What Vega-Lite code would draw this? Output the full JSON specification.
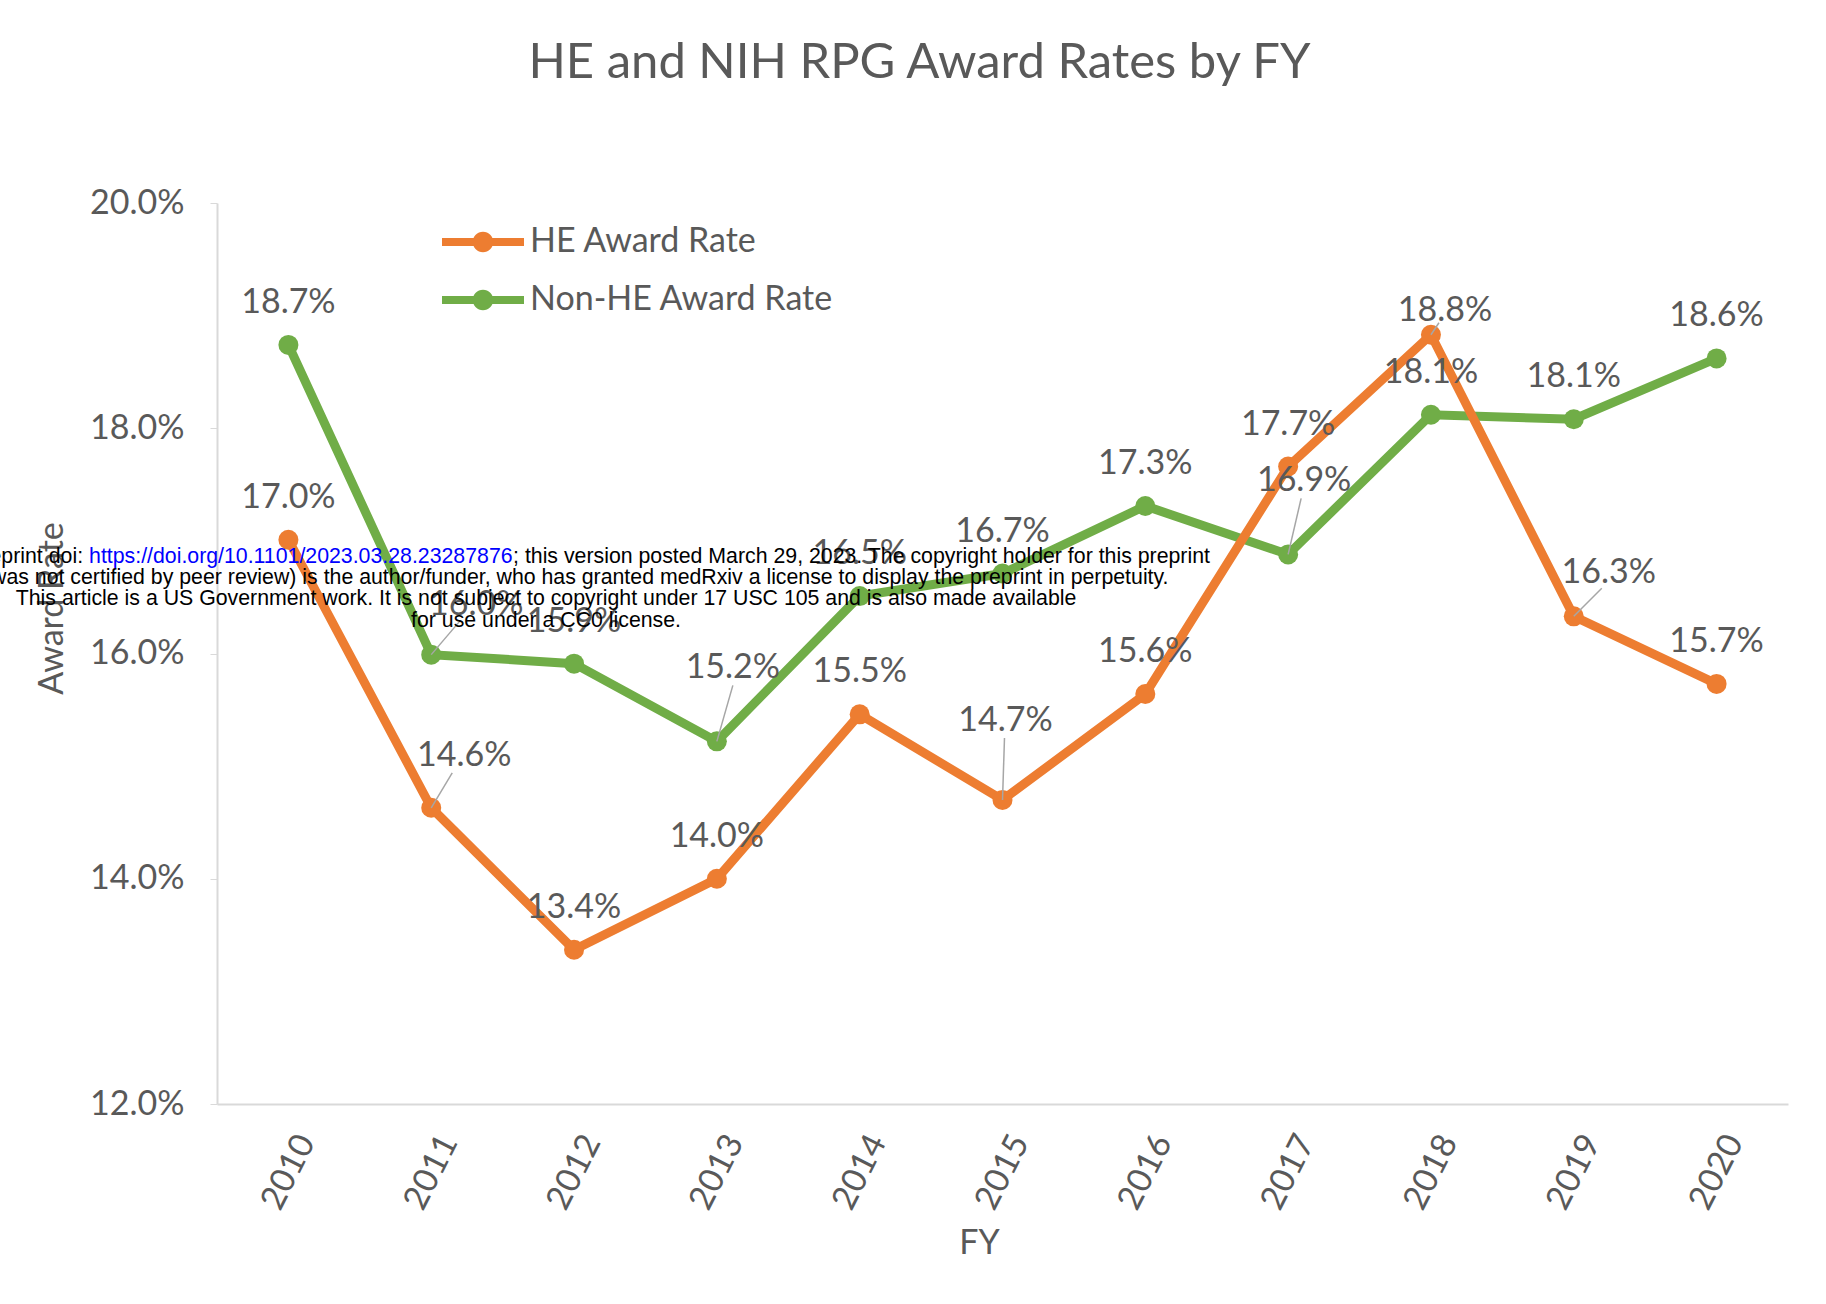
{
  "$schema": "https://vega.github.io/schema/vega-lite/v6.json",
  "description": "HE and NIH RPG award rates by fiscal year, with the medRxiv notice laid over the plot",
  "width": 1571,
  "height": 901,
  "autosize": {"type": "none"},
  "padding": {"left": 217, "top": 203, "right": 38, "bottom": 200},
  "background": "white",
  "config": {"view": {"stroke": null}, "font": "Lato"},
  "title": {
    "text": "HE and NIH RPG Award Rates by FY",
    "anchor": "middle",
    "frame": "group",
    "dx": -83,
    "offset": 98,
    "font": "Lato",
    "fontSize": 49,
    "fontWeight": "normal",
    "color": "#595959"
  },
  "data": {
    "values": [
      {"FY": "2010", "series": "Non-HE Award Rate", "rate": 0.1874},
      {"FY": "2011", "series": "Non-HE Award Rate", "rate": 0.1599},
      {"FY": "2012", "series": "Non-HE Award Rate", "rate": 0.1591},
      {"FY": "2013", "series": "Non-HE Award Rate", "rate": 0.1522},
      {"FY": "2014", "series": "Non-HE Award Rate", "rate": 0.1651},
      {"FY": "2015", "series": "Non-HE Award Rate", "rate": 0.1671},
      {"FY": "2016", "series": "Non-HE Award Rate", "rate": 0.1731},
      {"FY": "2017", "series": "Non-HE Award Rate", "rate": 0.1688},
      {"FY": "2018", "series": "Non-HE Award Rate", "rate": 0.1812},
      {"FY": "2019", "series": "Non-HE Award Rate", "rate": 0.1808},
      {"FY": "2020", "series": "Non-HE Award Rate", "rate": 0.1862},
      {"FY": "2010", "series": "HE Award Rate", "rate": 0.1701},
      {"FY": "2011", "series": "HE Award Rate", "rate": 0.1463},
      {"FY": "2012", "series": "HE Award Rate", "rate": 0.1337},
      {"FY": "2013", "series": "HE Award Rate", "rate": 0.1400},
      {"FY": "2014", "series": "HE Award Rate", "rate": 0.1546},
      {"FY": "2015", "series": "HE Award Rate", "rate": 0.1470},
      {"FY": "2016", "series": "HE Award Rate", "rate": 0.1564},
      {"FY": "2017", "series": "HE Award Rate", "rate": 0.1766},
      {"FY": "2018", "series": "HE Award Rate", "rate": 0.1883},
      {"FY": "2019", "series": "HE Award Rate", "rate": 0.1633},
      {"FY": "2020", "series": "HE Award Rate", "rate": 0.1573}
    ]
  },
  "encoding": {
    "x": {
      "field": "FY",
      "type": "ordinal",
      "scale": {"type": "point", "padding": 0.5},
      "axis": {
        "title": "FY",
        "labelAngle": -63,
        "labelAlign": "center",
        "labelBaseline": "middle",
        "labelPadding": 68,
        "labelOverlap": false,
        "labelFont": "Lato",
        "labelFontSize": 34,
        "labelColor": "#595959",
        "ticks": false,
        "grid": false,
        "domainColor": "#d9d9d9",
        "domainWidth": 2,
        "titleFont": "Lato",
        "titleFontSize": 34,
        "titleFontWeight": "normal",
        "titleColor": "#595959",
        "titlePadding": 12,
        "titleX": 762
      }
    },
    "y": {
      "field": "rate",
      "type": "quantitative",
      "scale": {"domain": [0.12, 0.2], "nice": false, "zero": false},
      "axis": {
        "title": "Award Rate",
        "values": [0.12, 0.14, 0.16, 0.18, 0.2],
        "format": ".1%",
        "grid": false,
        "labelFont": "Lato",
        "labelFontSize": 34,
        "labelColor": "#595959",
        "labelPadding": 26,
        "tickSize": 7,
        "tickColor": "#d9d9d9",
        "domainColor": "#d9d9d9",
        "domainWidth": 2,
        "titleFont": "Lato",
        "titleFontSize": 34,
        "titleFontWeight": "normal",
        "titleColor": "#595959",
        "titlePadding": 20,
        "titleY": 405
      }
    }
  },
  "layer": [
    {
      "transform": [{"filter": "datum.series == 'Non-HE Award Rate'"}],
      "mark": {"type": "line", "strokeWidth": 9, "point": {"filled": true, "size": 400}},
      "encoding": {
        "color": {
          "field": "series",
          "type": "nominal",
          "scale": {"domain": ["HE Award Rate", "Non-HE Award Rate"], "range": ["#ED7D31", "#70AD47"]},
          "legend": {
            "title": null,
            "orient": "none",
            "legendX": 225,
            "legendY": -2,
            "symbolType": "M-1,-0.1L1,-0.1L1,0.1L-1,0.1Z M0.25,0A0.25,0.25,0,1,1,-0.25,0A0.25,0.25,0,1,1,0.25,0Z",
            "symbolSize": 6724,
            "symbolStrokeWidth": 0,
            "labelFont": "Lato",
            "labelFontSize": 34,
            "labelColor": "#595959",
            "labelLimit": 600,
            "labelOffset": 6,
            "rowPadding": 0,
            "encode": {
              "symbols": {
                "update": {
                  "fill": {"scale": "color", "field": "value"},
                  "stroke": {"value": "transparent"}
                }
              }
            }
          }
        }
      }
    },
    {
      "transform": [{"filter": "datum.series == 'HE Award Rate'"}],
      "mark": {"type": "line", "strokeWidth": 9, "point": {"filled": true, "size": 400}},
      "encoding": {
        "color": {"field": "series", "type": "nominal"}
      }
    },
    {
      "transform": [{"filter": "datum.series == 'Non-HE Award Rate' && datum.FY == '2011'"}],
      "mark": {"type": "rule", "color": "#a6a6a6", "strokeWidth": 1.5, "x2Offset": 29, "y2Offset": -34},
      "encoding": {"x2": {"field": "FY"}, "y2": {"field": "rate"}}
    },
    {
      "transform": [{"filter": "datum.series == 'Non-HE Award Rate' && datum.FY == '2013'"}],
      "mark": {"type": "rule", "color": "#a6a6a6", "strokeWidth": 1.5, "x2Offset": 16, "y2Offset": -56},
      "encoding": {"x2": {"field": "FY"}, "y2": {"field": "rate"}}
    },
    {
      "transform": [{"filter": "datum.series == 'Non-HE Award Rate' && datum.FY == '2017'"}],
      "mark": {"type": "rule", "color": "#a6a6a6", "strokeWidth": 1.5, "x2Offset": 13, "y2Offset": -56},
      "encoding": {"x2": {"field": "FY"}, "y2": {"field": "rate"}}
    },
    {
      "transform": [{"filter": "datum.series == 'HE Award Rate' && datum.FY == '2011'"}],
      "mark": {"type": "rule", "color": "#a6a6a6", "strokeWidth": 1.5, "x2Offset": 21, "y2Offset": -35},
      "encoding": {"x2": {"field": "FY"}, "y2": {"field": "rate"}}
    },
    {
      "transform": [{"filter": "datum.series == 'HE Award Rate' && datum.FY == '2015'"}],
      "mark": {"type": "rule", "color": "#a6a6a6", "strokeWidth": 1.5, "x2Offset": 2, "y2Offset": -62},
      "encoding": {"x2": {"field": "FY"}, "y2": {"field": "rate"}}
    },
    {
      "transform": [{"filter": "datum.series == 'HE Award Rate' && datum.FY == '2018'"}],
      "mark": {"type": "rule", "color": "#a6a6a6", "strokeWidth": 1.5, "x2Offset": 8, "y2Offset": -12},
      "encoding": {"x2": {"field": "FY"}, "y2": {"field": "rate"}}
    },
    {
      "transform": [{"filter": "datum.series == 'HE Award Rate' && datum.FY == '2019'"}],
      "mark": {"type": "rule", "color": "#a6a6a6", "strokeWidth": 1.5, "x2Offset": 28, "y2Offset": -28},
      "encoding": {"x2": {"field": "FY"}, "y2": {"field": "rate"}}
    },
    {
      "transform": [{"filter": "!((datum.series == 'HE Award Rate' && indexof(['2011', '2015', '2018', '2019'], datum.FY) >= 0) || (datum.series == 'Non-HE Award Rate' && indexof(['2011', '2013', '2017'], datum.FY) >= 0))"}],
      "mark": {"type": "text", "dy": -42, "font": "Lato", "fontSize": 34, "color": "#595959", "baseline": "middle"},
      "encoding": {"text": {"field": "rate", "type": "quantitative", "format": ".1%"}}
    },
    {
      "transform": [{"filter": "datum.series == 'Non-HE Award Rate' && datum.FY == '2011'"}],
      "mark": {"type": "text", "dx": 45, "dy": -50, "font": "Lato", "fontSize": 34, "color": "#595959", "baseline": "middle"},
      "encoding": {"text": {"field": "rate", "type": "quantitative", "format": ".1%"}}
    },
    {
      "transform": [{"filter": "datum.series == 'Non-HE Award Rate' && (datum.FY == '2013' || datum.FY == '2017')"}],
      "mark": {"type": "text", "dx": 16, "dy": -73, "font": "Lato", "fontSize": 34, "color": "#595959", "baseline": "middle"},
      "encoding": {"text": {"field": "rate", "type": "quantitative", "format": ".1%"}}
    },
    {
      "transform": [{"filter": "datum.series == 'HE Award Rate' && datum.FY == '2011'"}],
      "mark": {"type": "text", "dx": 33, "dy": -52, "font": "Lato", "fontSize": 34, "color": "#595959", "baseline": "middle"},
      "encoding": {"text": {"field": "rate", "type": "quantitative", "format": ".1%"}}
    },
    {
      "transform": [{"filter": "datum.series == 'HE Award Rate' && datum.FY == '2015'"}],
      "mark": {"type": "text", "dx": 3, "dy": -79, "font": "Lato", "fontSize": 34, "color": "#595959", "baseline": "middle"},
      "encoding": {"text": {"field": "rate", "type": "quantitative", "format": ".1%"}}
    },
    {
      "transform": [{"filter": "datum.series == 'HE Award Rate' && datum.FY == '2018'"}],
      "mark": {"type": "text", "dx": 14, "dy": -24, "font": "Lato", "fontSize": 34, "color": "#595959", "baseline": "middle"},
      "encoding": {"text": {"field": "rate", "type": "quantitative", "format": ".1%"}}
    },
    {
      "transform": [{"filter": "datum.series == 'HE Award Rate' && datum.FY == '2019'"}],
      "mark": {"type": "text", "dx": 35, "dy": -43, "font": "Lato", "fontSize": 34, "color": "#595959", "baseline": "middle"},
      "encoding": {"text": {"field": "rate", "type": "quantitative", "format": ".1%"}}
    },
    {
      "transform": [{"filter": "datum.series == 'HE Award Rate' && datum.FY == '2012'"}],
      "mark": {"type": "text", "text": "medRxiv preprint doi:", "align": "right", "baseline": "middle", "dx": -491, "dy": -393, "font": "Liberation Sans", "fontSize": 21.3, "color": "#000000"}
    },
    {
      "transform": [{"filter": "datum.series == 'HE Award Rate' && datum.FY == '2012'"}],
      "mark": {"type": "text", "text": "https://doi.org/10.1101/2023.03.28.23287876", "align": "left", "baseline": "middle", "dx": -485, "dy": -393, "font": "Liberation Sans", "fontSize": 21.3, "color": "#0000ff"}
    },
    {
      "transform": [{"filter": "datum.series == 'HE Award Rate' && datum.FY == '2012'"}],
      "mark": {"type": "text", "text": "; this version posted March 29, 2023. The copyright holder for this preprint", "align": "left", "baseline": "middle", "dx": -61, "dy": -393, "font": "Liberation Sans", "fontSize": 21.3, "color": "#000000"}
    },
    {
      "transform": [{"filter": "datum.series == 'HE Award Rate' && datum.FY == '2012'"}],
      "mark": {"type": "text", "text": "(which was not certified by peer review) is the author/funder, who has granted medRxiv a license to display the preprint in perpetuity.", "align": "center", "baseline": "middle", "dx": -28, "dy": -372, "font": "Liberation Sans", "fontSize": 21.3, "color": "#000000"}
    },
    {
      "transform": [{"filter": "datum.series == 'HE Award Rate' && datum.FY == '2012'"}],
      "mark": {"type": "text", "text": "This article is a US Government work. It is not subject to copyright under 17 USC 105 and is also made available", "align": "center", "baseline": "middle", "dx": -28, "dy": -351, "font": "Liberation Sans", "fontSize": 21.3, "color": "#000000"}
    },
    {
      "transform": [{"filter": "datum.series == 'HE Award Rate' && datum.FY == '2012'"}],
      "mark": {"type": "text", "text": "for use under a CC0 license.", "align": "center", "baseline": "middle", "dx": -28, "dy": -329, "font": "Liberation Sans", "fontSize": 21.3, "color": "#000000"}
    }
  ]
}
